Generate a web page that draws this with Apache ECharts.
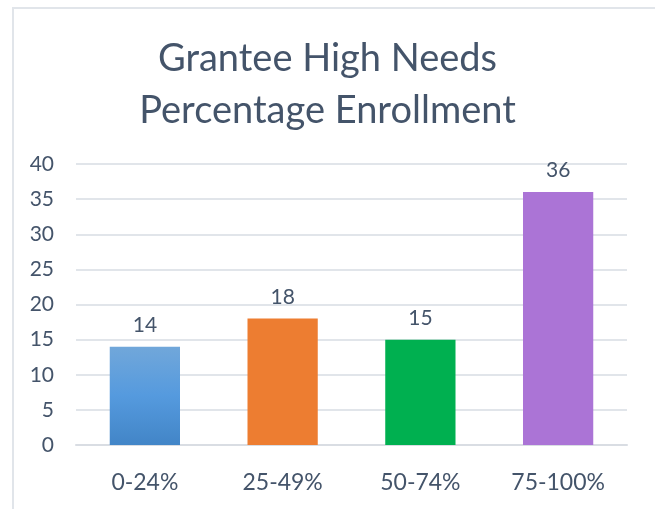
<!DOCTYPE html>
<html><head><meta charset="utf-8">
<script src="https://cdn.jsdelivr.net/npm/echarts@6/dist/echarts.min.js"></script>
<style>html,body{margin:0;padding:0;background:#fff;}#c{width:655px;height:509px;}
#box{position:absolute;left:12px;top:7px;width:700px;height:600px;border:2px solid #e1e5ea;box-sizing:border-box;pointer-events:none;}</style>
</head><body><div id="c"></div><div id="box"></div>
<script>
const categories = ['0-24%', '25-49%', '50-74%', '75-100%'];
const values = [14, 18, 15, 36];
const barColors = ['#5b9bd5', '#ed7d31', '#00b050', '#ab74d6'];
const titleLines = ['Grantee High Needs', 'Percentage Enrollment'];
const FONT = 'Lato, "Open Sans", sans-serif';
const chart = echarts.init(document.getElementById('c'));
chart.setOption({
  animation: false,
  title: {
    text: titleLines.join('\n'), left: 'center', top: 28,
    textStyle: { fontFamily: FONT, fontSize: 38, fontWeight: 'normal', color: '#44546a', lineHeight: 52 }
  },
  grid: { left: 76, right: 28, top: 164, bottom: 64, containLabel: false },
  xAxis: {
    type: 'category', data: categories,
    axisLine: { lineStyle: { color: '#d9dde3', width: 2 } },
    axisTick: { show: false },
    axisLabel: { fontFamily: FONT, fontSize: 23, color: '#44546a', margin: 26 }
  },
  yAxis: {
    type: 'value', min: 0, max: 40, interval: 5,
    axisLine: { show: false }, axisTick: { show: false },
    splitLine: { lineStyle: { color: '#e1e5ea', width: 2 } },
    axisLabel: { fontFamily: FONT, fontSize: 21, color: '#44546a', margin: 22 }
  },
  series: [{
    type: 'bar', barWidth: '51%',
    data: values.map((v, i) => ({
      value: v,
      itemStyle: {
        color: i === 0 ? new echarts.graphic.LinearGradient(0, 0, 0, 1, [
          { offset: 0, color: '#71a7da' }, { offset: 0.5, color: '#559ade' }, { offset: 1, color: '#4285c7' }
        ]) : barColors[i]
      }
    })),
    label: { show: true, position: 'top', distance: 11, fontFamily: FONT, fontSize: 21, color: '#44546a' }
  }]
});
</script></body></html>
